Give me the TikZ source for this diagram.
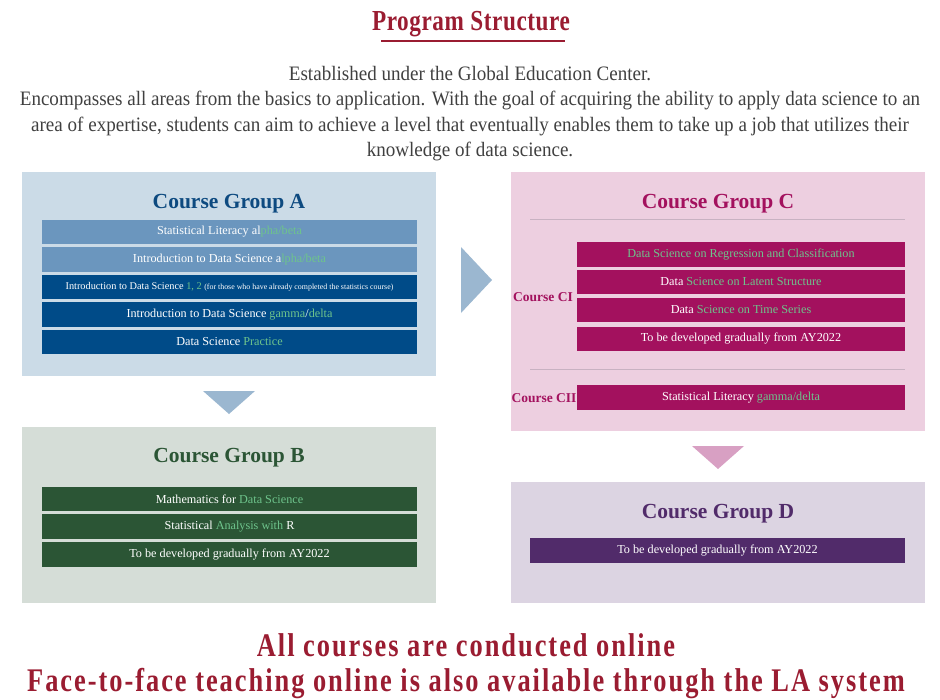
\documentclass[tikz,border=0pt]{standalone}
\usepackage{fontspec}
\setmainfont{Liberation Serif}
\newfontfamily\narrowfont[FakeStretch=0.93]{Liberation Serif}
\newfontfamily\headfont[FakeStretch=0.8,LetterSpace=6]{Liberation Serif}
\newfontfamily\titlefont[FakeStretch=0.8,LetterSpace=2]{Liberation Serif}
\usepackage{xcolor}
\usepackage{tikz}

\definecolor{bgA}{HTML}{CBDBE7}
\definecolor{rowAl}{HTML}{6B96BE}
\definecolor{rowAd}{HTML}{004B88}
\definecolor{titA}{HTML}{0D4A80}
\definecolor{arrA}{HTML}{9BB7D0}
\definecolor{bgB}{HTML}{D5DDD7}
\definecolor{rowB}{HTML}{2B5535}
\definecolor{bgC}{HTML}{EDCFE0}
\definecolor{rowC}{HTML}{A3115E}
\definecolor{ruleC}{HTML}{C8B2C2}
\definecolor{arrC}{HTML}{D8A0C3}
\definecolor{bgD}{HTML}{DCD4E2}
\definecolor{rowD}{HTML}{512B6A}
\definecolor{darkred}{HTML}{9A1C31}
\definecolor{bodygray}{HTML}{404040}
\definecolor{hl}{HTML}{6EC48C}

\begin{document}
\begin{tikzpicture}[x=1pt,y=-1pt,
  grp/.style={inner sep=0,minimum width=414pt},
  gtitle/.style={font=\fontsize{21.5}{24}\selectfont\bfseries},
  row/.style={inner sep=0,minimum height=24.5pt,text=white,font=\fontsize{12.2}{14}\selectfont},
  rowL/.style={row,minimum width=375pt},
  rowR/.style={row,minimum width=328pt},
  sublab/.style={font=\fontsize{13.5}{15}\selectfont\bfseries,text=rowC,inner sep=0}]
\useasboundingbox (0,0) rectangle (940,699);

\node[text=darkred,font=\titlefont\fontsize{29}{32}\selectfont\bfseries] (title) at (471,24.5) {Program Structure};
\draw[darkred,line width=1.3pt] (381,41)--(565,41);

\node[text=bodygray,align=center,font=\narrowfont\fontsize{20.5}{25.3}\selectfont] (intro) at (470,113.5)
{Established under the Global Education Center.\\
Encompasses all areas from the basics to application. With the goal of acquiring the ability to apply data science to an\\
area of expertise, students can aim to achieve a level that eventually enables them to take up a job that utilizes their\\
knowledge of data science.};

\node[grp,fill=bgA,minimum height=204pt] (grpA) at (229,274) {};
\node[gtitle,text=titA] (titA) at (229,204) {Course Group A};
\node[rowL,fill=rowAl] (a1) at (229.5,232) {Statistical Literacy al\textcolor{hl}{pha/beta}};
\node[rowL,fill=rowAl] (a2) at (229.5,259.5) {Introduction to Data Science a\textcolor{hl}{lpha/beta}};
\node[rowL,fill=rowAd] (a3) at (229.5,287) {\fontsize{10.3}{12}\selectfont Introduction to Data Science \textcolor{hl}{1, 2} {\fontsize{7.9}{9}\selectfont (for those who have already completed the statistics course)}};
\node[rowL,fill=rowAd] (a4) at (229.5,314.5) {Introduction to Data Science \textcolor{hl}{gamma}/\textcolor{hl}{delta}};
\node[rowL,fill=rowAd] (a5) at (229.5,342) {Data Science \textcolor{hl}{Practice}};

\fill[arrA] (203,391)--(255,391)--(229,414)--cycle;
\fill[arrA] (461,247)--(492,280)--(461,313)--cycle;

\node[grp,fill=bgB,minimum height=176pt] (grpB) at (229,515) {};
\node[gtitle,text=rowB] (titB) at (229,458) {Course Group B};
\node[rowL,fill=rowB] (b1) at (229.5,499) {Mathematics for \textcolor{hl}{Data Science}};
\node[rowL,fill=rowB] (b2) at (229.5,526.5) {Statistical \textcolor{hl}{Analysis with} R};
\node[rowL,fill=rowB] (b3) at (229.5,554.5) {To be developed gradually from AY2022};

\node[grp,fill=bgC,minimum height=259pt] (grpC) at (718,301.5) {};
\node[gtitle,text=rowC] (titC) at (718,204) {Course Group C};
\draw[ruleC,line width=0.8pt] (530,219)--(905,219);
\node[rowR,fill=rowC] (c1) at (741,254.5) {\textcolor{hl}{Data Science on Regression and Classification}};
\node[rowR,fill=rowC] (c2) at (741,282) {Data \textcolor{hl}{Science on Latent Structure}};
\node[rowR,fill=rowC] (c3) at (741,310) {Data \textcolor{hl}{Science on Time Series}};
\node[rowR,fill=rowC] (c4) at (741,339) {To be developed gradually from AY2022};
\node[sublab] (ci) at (543,297) {Course CI};
\draw[ruleC,line width=0.8pt] (530,369)--(905,369);
\node[rowR,fill=rowC] (c5) at (741,397.5) {Statistical Literacy \textcolor{hl}{gamma/delta}};
\node[sublab] (cii) at (544,398) {Course CII};

\fill[arrC] (692,446)--(744,446)--(718,469)--cycle;

\node[grp,fill=bgD,minimum height=121pt] (grpD) at (718,542.5) {};
\node[gtitle,text=rowD] (titD) at (718,514) {Course Group D};
\node[row,fill=rowD,minimum width=375pt] (d1) at (717.5,550.5) {To be developed gradually from AY2022};

\node[text=darkred,align=center,font=\headfont\fontsize{33}{35.5}\selectfont\bfseries] (note) at (466,666)
{All courses are conducted online\\
Face-to-face teaching online is also available through the LA system};
\end{tikzpicture}
\end{document}
